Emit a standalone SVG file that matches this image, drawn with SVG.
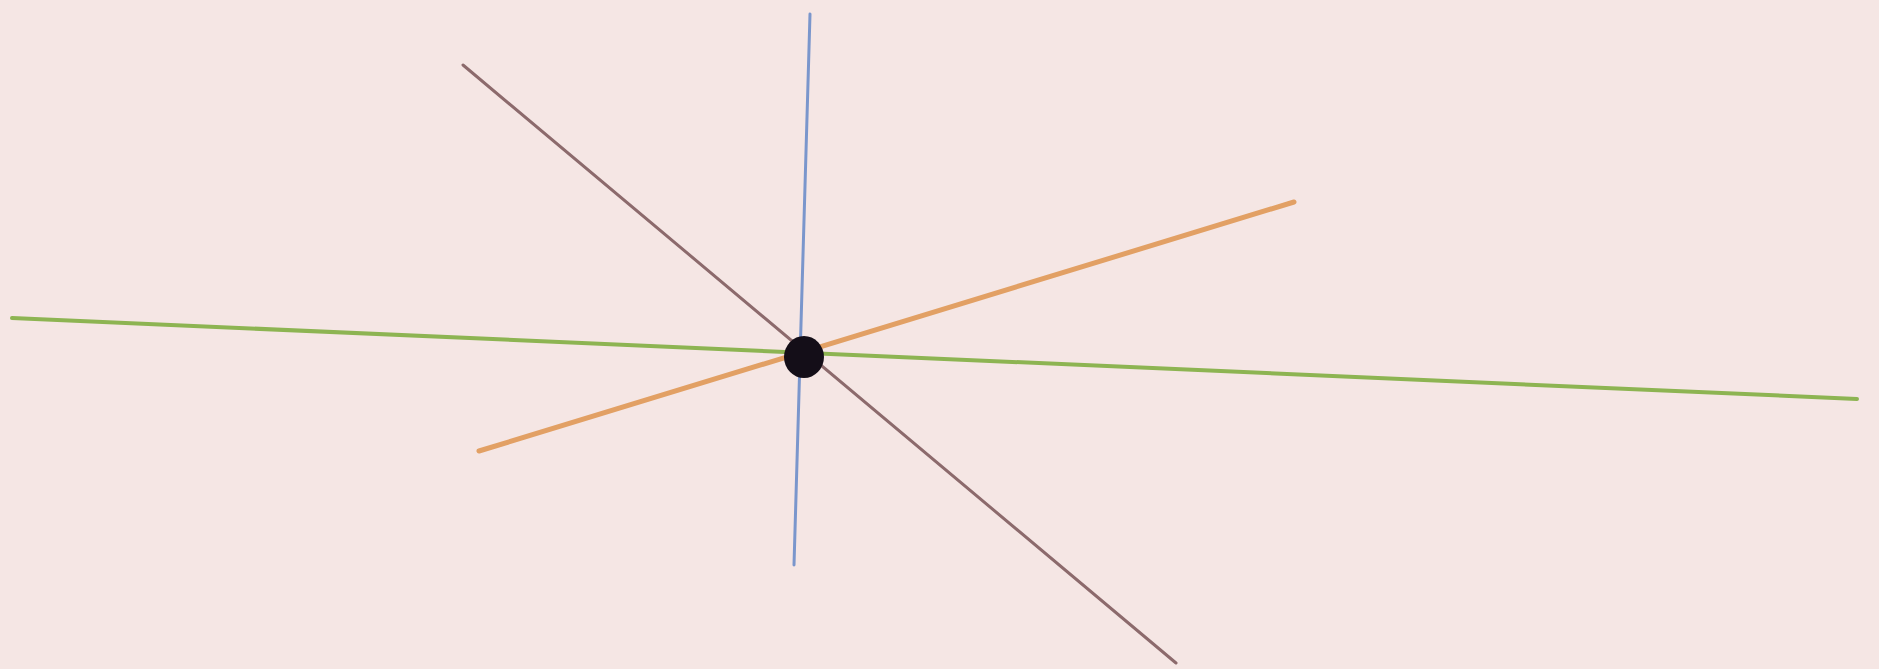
<svg xmlns="http://www.w3.org/2000/svg" width="1879" height="669" viewBox="0 0 1879 669">
<style>
.ln{fill:none;stroke-linecap:round}
</style>
<rect width="1879" height="669" fill="#f5e6e4"/>
<g id="connectors">
<line class="ln" x1="463" y1="65" x2="1176" y2="663" stroke="#8c6a6c" stroke-width="3"/>
<line class="ln" x1="810" y1="14" x2="794" y2="565" stroke="#7a96cc" stroke-width="3"/>
<line class="ln" x1="12" y1="318" x2="1857" y2="399" stroke="#8db452" stroke-width="4"/>
<line class="ln" x1="479" y1="451" x2="1294" y2="202" stroke="#e2a064" stroke-width="5"/>
</g>
<g id="center">
<ellipse cx="804" cy="357" rx="20" ry="21" fill="#140e18"/>
</g>
</svg>
